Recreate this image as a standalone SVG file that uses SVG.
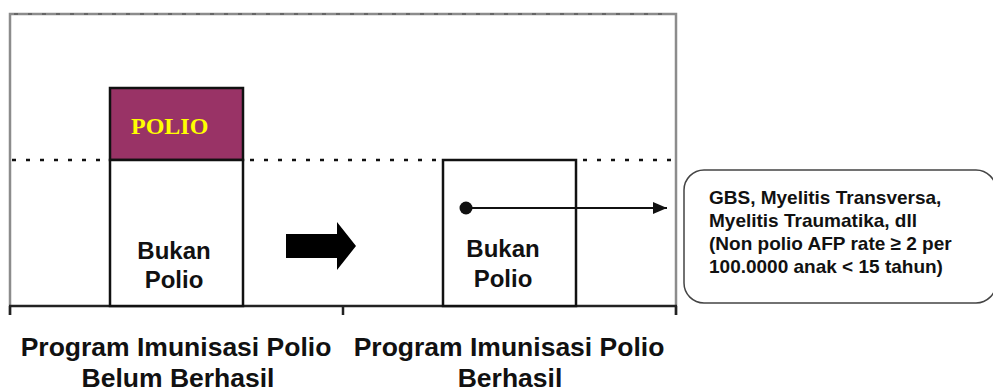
<svg xmlns="http://www.w3.org/2000/svg" width="993" height="392" viewBox="0 0 993 392">
  <defs>
    <style>
      .frame { fill: none; stroke: #8c8c8c; stroke-width: 2.5; }
      .frame-dash { fill: none; stroke: #666; stroke-width: 2; stroke-dasharray: 4 10; }
      .axis { fill: none; stroke: #222; stroke-width: 2.5; }
      .level { fill: none; stroke: #111; stroke-width: 2.5; stroke-dasharray: 4 10; }
      .box { fill: #ffffff; stroke: #111; stroke-width: 2.5; }
      .polio { fill: #993366; stroke: #111; stroke-width: 2.5; }
      .lbl { font-family: "Liberation Sans", Arial, sans-serif; font-weight: bold; fill: #111; }
      .box-lbl { font-size: 24px; text-anchor: middle; }
      .axis-lbl { font-size: 26.5px; text-anchor: middle; }
      .note { font-size: 19px; }
      .polio-lbl { font-family: "Liberation Serif", "Times New Roman", serif; font-weight: bold; font-size: 24px; fill: #ffff00; }
      .link { fill: none; stroke: #111; stroke-width: 2; }
    </style>
    <marker id="tri" viewBox="0 0 14 12" refX="14" refY="6" markerWidth="14" markerHeight="12" markerUnits="userSpaceOnUse" orient="auto">
      <path d="M0,0 L14,6 L0,12 Z" fill="#111"/>
    </marker>
  </defs>

  <!-- outer frame and timeline axis -->
  <g id="frame">
    <path class="frame" d="M10,315 V14 H676 V315"/>
    <path class="frame-dash" d="M14,14 H672"/>
    <path class="axis" d="M9,306 H677"/>
    <path class="axis" d="M10,306 V315 M343,306 V315 M676,306 V315"/>
    <path class="level" d="M12,160 H108 M250,160 H440 M583,160 H676"/>
  </g>

  <!-- before: polio cases on top of non-polio cases -->
  <g id="polio">
    <rect class="polio" x="110" y="88" width="133" height="72"/>
    <text class="polio-lbl" x="131" y="134">POLIO</text>
  </g>
  <g id="bukan-polio-1">
    <rect class="box" x="110" y="160" width="133" height="146"/>
    <text class="lbl box-lbl" x="174" y="259">Bukan</text>
    <text class="lbl box-lbl" x="174" y="288">Polio</text>
  </g>

  <!-- transition arrow -->
  <g id="transition">
    <path d="M286,234 H337 V222 L356,246 L337,270 V258 H286 Z" fill="#000"/>
  </g>

  <!-- after: only non-polio cases remain -->
  <g id="bukan-polio-2">
    <rect class="box" x="443" y="160" width="133" height="146"/>
    <text class="lbl box-lbl" x="503" y="257">Bukan</text>
    <text class="lbl box-lbl" x="503" y="287">Polio</text>
  </g>

  <!-- explanation of the non-polio cases -->
  <g id="keterangan">
    <rect x="684" y="170" width="312" height="133" rx="20" ry="20" fill="#fff" stroke="#444" stroke-width="1.5"/>
    <text class="lbl note" x="709" y="204">GBS, Myelitis Transversa,</text>
    <text class="lbl note" x="709" y="227">Myelitis Traumatika, dll</text>
    <text class="lbl note" x="709" y="250">(Non polio AFP rate ≥ 2 per</text>
    <text class="lbl note" x="709" y="273">100.0000 anak &lt; 15 tahun)</text>
  </g>

  <!-- connectors -->
  <g id="connectors">
    <circle cx="466" cy="208" r="6.5" fill="#111"/>
    <path class="link" d="M466,208 H667" marker-end="url(#tri)"/>
  </g>

  <!-- period labels under the axis -->
  <g id="label-belum">
    <text class="lbl axis-lbl" x="176" y="356">Program Imunisasi Polio</text>
    <text class="lbl axis-lbl" x="178" y="387">Belum Berhasil</text>
  </g>
  <g id="label-berhasil">
    <text class="lbl axis-lbl" x="509" y="356">Program Imunisasi Polio</text>
    <text class="lbl axis-lbl" x="510" y="387">Berhasil</text>
  </g>
</svg>
